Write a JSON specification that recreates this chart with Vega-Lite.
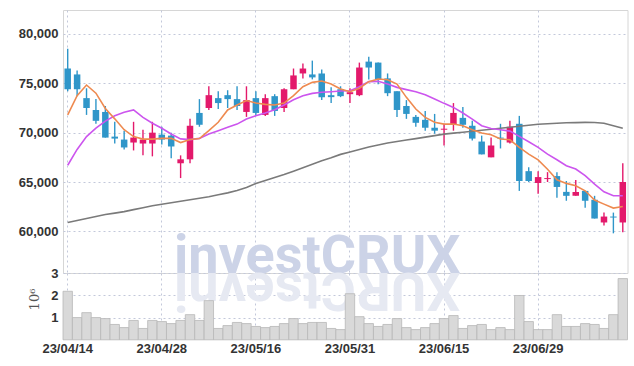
{
  "$schema": "https://vega.github.io/schema/vega-lite/v6.json",
  "padding": {"left": 17, "top": 9, "right": 8, "bottom": 5},
  "background": "white",
  "spacing": 0,
  "bounds": "flush",
  "config": {
    "view": {"stroke": null},
    "concat": {"spacing": 0},
    "axis": {
      "labelFont": "Liberation Sans, Arial, sans-serif",
      "labelFontSize": 13,
      "labelFontWeight": "bold",
      "labelColor": "#333333",
      "ticks": false,
      "domain": false,
      "grid": true,
      "gridDash": [2, 3],
      "gridColor": "#c3c8da",
      "gridWidth": 1,
      "labelPadding": 5,
      "labelOverlap": false
    }
  },
  "datasets": {
    "p": [
      {"d":"23/04/14","o":76500,"h":78500,"l":74200,"c":74400,"v":2.18,"m5":71800,"m20":66700,"m60":60900},
      {"d":"23/04/17","o":75900,"h":76300,"l":73700,"c":74400,"v":1.0,"m5":73750,"m20":68300,"m60":61100},
      {"d":"23/04/18","o":73500,"h":74500,"l":71800,"c":72500,"v":1.22,"m5":74830,"m20":69600,"m60":61300},
      {"d":"23/04/19","o":72300,"h":73400,"l":70900,"c":71200,"v":1.0,"m5":74000,"m20":70450,"m60":61500},
      {"d":"23/04/20","o":72100,"h":72700,"l":69500,"c":69500,"v":0.955,"m5":72450,"m20":71170,"m60":61700},
      {"d":"23/04/21","o":69600,"h":71100,"l":68900,"c":69400,"v":0.69,"m5":71400,"m20":71720,"m60":61850},
      {"d":"23/04/24","o":69300,"h":70200,"l":68300,"c":68500,"v":0.55,"m5":70300,"m20":72060,"m60":62000},
      {"d":"23/04/25","o":69000,"h":71100,"l":68200,"c":69500,"v":0.87,"m5":69600,"m20":72300,"m60":62200},
      {"d":"23/04/26","o":68900,"h":70300,"l":67700,"c":69300,"v":0.51,"m5":69350,"m20":71550,"m60":62400},
      {"d":"23/04/27","o":68900,"h":71100,"l":67600,"c":70000,"v":0.87,"m5":69350,"m20":70950,"m60":62600},
      {"d":"23/04/28","o":69800,"h":70600,"l":68800,"c":69300,"v":0.82,"m5":69420,"m20":70450,"m60":62750},
      {"d":"23/05/02","o":69700,"h":70000,"l":67400,"c":68600,"v":0.73,"m5":69420,"m20":69870,"m60":62900},
      {"d":"23/05/03","o":66900,"h":67700,"l":65400,"c":67300,"v":0.87,"m5":69000,"m20":69370,"m60":63050},
      {"d":"23/05/04","o":67300,"h":71400,"l":66900,"c":70700,"v":1.13,"m5":69300,"m20":69300,"m60":63200},
      {"d":"23/05/08","o":72000,"h":73400,"l":70600,"c":70800,"v":0.87,"m5":69400,"m20":69420,"m60":63350},
      {"d":"23/05/09","o":72500,"h":74700,"l":72300,"c":73800,"v":1.76,"m5":70200,"m20":69860,"m60":63500},
      {"d":"23/05/10","o":73500,"h":74200,"l":72400,"c":73000,"v":0.51,"m5":71050,"m20":70200,"m60":63700},
      {"d":"23/05/11","o":73800,"h":74300,"l":72500,"c":73400,"v":0.64,"m5":72300,"m20":70540,"m60":63900},
      {"d":"23/05/12","o":73400,"h":74700,"l":72300,"c":72700,"v":0.78,"m5":72800,"m20":70870,"m60":64150},
      {"d":"23/05/15","o":72100,"h":74700,"l":71600,"c":73300,"v":0.73,"m5":73250,"m20":71380,"m60":64450},
      {"d":"23/05/16","o":73500,"h":74200,"l":71700,"c":72000,"v":0.60,"m5":73000,"m20":71720,"m60":64850},
      {"d":"23/05/17","o":71800,"h":73900,"l":71700,"c":73500,"v":0.55,"m5":72870,"m20":71990,"m60":65150},
      {"d":"23/05/18","o":73700,"h":73900,"l":71700,"c":72200,"v":0.60,"m5":72800,"m20":72330,"m60":65450},
      {"d":"23/05/19","o":72500,"h":74500,"l":72100,"c":74400,"v":0.73,"m5":73000,"m20":72800,"m60":65750},
      {"d":"23/05/22","o":74400,"h":76500,"l":74400,"c":75800,"v":0.955,"m5":73750,"m20":73340,"m60":66100},
      {"d":"23/05/23","o":76000,"h":77000,"l":75500,"c":76500,"v":0.73,"m5":74650,"m20":73750,"m60":66450},
      {"d":"23/05/24","o":75900,"h":77300,"l":75400,"c":75600,"v":0.78,"m5":75100,"m20":73980,"m60":66800},
      {"d":"23/05/25","o":76000,"h":76400,"l":73300,"c":73600,"v":0.78,"m5":75230,"m20":74090,"m60":67150},
      {"d":"23/05/26","o":73800,"h":74600,"l":73000,"c":73600,"v":0.51,"m5":74930,"m20":74150,"m60":67450},
      {"d":"23/05/30","o":74400,"h":74700,"l":73600,"c":73700,"v":0.46,"m5":74420,"m20":74220,"m60":67800},
      {"d":"23/05/31","o":73900,"h":74500,"l":73000,"c":74100,"v":2.07,"m5":74150,"m20":74250,"m60":68050},
      {"d":"23/06/01","o":73800,"h":77100,"l":73700,"c":76600,"v":1.04,"m5":74500,"m20":74660,"m60":68300},
      {"d":"23/06/02","o":77200,"h":77700,"l":75400,"c":76600,"v":0.73,"m5":75170,"m20":75170,"m60":68550},
      {"d":"23/06/05","o":77100,"h":77100,"l":74900,"c":75400,"v":0.60,"m5":75440,"m20":75200,"m60":68750},
      {"d":"23/06/07","o":75500,"h":76000,"l":73700,"c":74000,"v":0.69,"m5":75370,"m20":74930,"m60":68950},
      {"d":"23/06/08","o":74200,"h":74200,"l":71600,"c":72300,"v":0.955,"m5":74930,"m20":74590,"m60":69100},
      {"d":"23/06/09","o":72700,"h":73300,"l":71400,"c":71900,"v":0.55,"m5":73580,"m20":74360,"m60":69250},
      {"d":"23/06/12","o":71600,"h":71800,"l":70600,"c":71000,"v":0.46,"m5":72400,"m20":74150,"m60":69400},
      {"d":"23/06/13","o":71300,"h":72200,"l":70200,"c":70500,"v":0.55,"m5":71550,"m20":73850,"m60":69550},
      {"d":"23/06/14","o":70500,"h":71900,"l":69900,"c":70200,"v":0.73,"m5":71050,"m20":73410,"m60":69700},
      {"d":"23/06/15","o":70300,"h":70900,"l":68700,"c":70400,"v":0.955,"m5":70870,"m20":72970,"m60":69850},
      {"d":"23/06/16","o":70800,"h":73000,"l":70200,"c":72000,"v":1.09,"m5":70870,"m20":72560,"m60":69950},
      {"d":"23/06/19","o":71500,"h":72600,"l":70500,"c":70800,"v":0.51,"m5":70700,"m20":71990,"m60":70050},
      {"d":"23/06/20","o":70700,"h":71200,"l":69200,"c":69400,"v":0.64,"m5":70300,"m20":71380,"m60":70150},
      {"d":"23/06/21","o":69100,"h":69700,"l":67800,"c":67800,"v":0.69,"m5":69960,"m20":70700,"m60":70250},
      {"d":"23/06/22","o":67500,"h":69500,"l":67500,"c":68700,"v":0.46,"m5":69790,"m20":70430,"m60":70350},
      {"d":"23/06/23","o":69500,"h":70900,"l":68400,"c":69400,"v":0.55,"m5":69350,"m20":70300,"m60":70450},
      {"d":"23/06/26","o":69000,"h":71200,"l":68900,"c":70600,"v":0.46,"m5":69280,"m20":70160,"m60":70550},
      {"d":"23/06/27","o":70900,"h":71700,"l":64100,"c":65100,"v":1.99,"m5":68500,"m20":69620,"m60":70650},
      {"d":"23/06/28","o":66100,"h":66500,"l":65000,"c":65100,"v":0.82,"m5":67830,"m20":69080,"m60":70750},
      {"d":"23/06/29","o":64900,"h":66100,"l":63800,"c":65500,"v":0.46,"m5":67240,"m20":68510,"m60":70850},
      {"d":"23/06/30","o":65300,"h":66000,"l":65000,"c":65400,"v":0.46,"m5":66300,"m20":67830,"m60":70900},
      {"d":"23/07/03","o":65600,"h":66000,"l":63400,"c":64500,"v":1.13,"m5":65230,"m20":67260,"m60":70950},
      {"d":"23/07/04","o":64000,"h":65100,"l":63100,"c":63600,"v":0.60,"m5":64860,"m20":66650,"m60":71000},
      {"d":"23/07/05","o":63600,"h":65200,"l":63600,"c":64000,"v":0.60,"m5":64620,"m20":66310,"m60":71020},
      {"d":"23/07/06","o":64100,"h":64100,"l":62400,"c":63100,"v":0.73,"m5":64110,"m20":65640,"m60":71040},
      {"d":"23/07/07","o":63200,"h":63600,"l":61300,"c":61300,"v":0.69,"m5":63170,"m20":64790,"m60":71030},
      {"d":"23/07/10","o":60900,"h":61900,"l":60600,"c":61500,"v":0.51,"m5":62760,"m20":64010,"m60":70950},
      {"d":"23/07/11","o":61500,"h":61900,"l":59800,"c":61400,"v":1.13,"m5":62360,"m20":63610,"m60":70700},
      {"d":"23/07/12","o":60900,"h":66900,"l":59900,"c":65000,"v":2.75,"m5":62520,"m20":63610,"m60":70450}
    ]
  },
  "vconcat": [
    {
      "width": 564.5,
      "height": 263,
      "view": {"stroke": "#d6d6d6"},
      "data": {"name": "p"},
      "encoding": {
        "x": {
          "field": "d", "type": "ordinal", "sort": "ascending",
          "scale": {"paddingInner": 0, "paddingOuter": 0},
          "axis": {"values": ["23/04/14","23/04/28","23/05/16","23/05/31","23/06/15","23/06/29"], "labels": false, "labelPadding": 0, "title": null}
        }
      },
      "layer": [
        {
          "transform": [{"filter": "datum.d == '23/05/24'"}],
          "mark": {"type": "text", "text": "investCRUX", "font": "Roboto", "fontWeight": "bold", "fontSize": 54, "color": "#ccd3e7", "align": "center", "baseline": "alphabetic", "dx": 5},
          "encoding": {
            "y": {"datum": 55800, "type": "quantitative", "title": null,
              "scale": {"domain": [55780, 82430], "nice": false, "zero": false},
              "axis": {"values": [60000, 65000, 70000, 75000, 80000], "labelExpr": "format(datum.value, ',')"}}
          }
        },
        {
          "mark": {"type": "rule", "strokeWidth": 1.4},
          "encoding": {
            "y": {"field": "l", "type": "quantitative", "title": null},
            "y2": {"field": "h"},
            "color": {"condition": {"test": "datum.c >= datum.o", "value": "#e3196b"}, "value": "#2f96c9"}
          }
        },
        {
          "mark": {"type": "bar", "size": 6.5},
          "encoding": {
            "y": {"field": "o", "type": "quantitative", "title": null},
            "y2": {"field": "c"},
            "color": {"condition": {"test": "datum.c >= datum.o", "value": "#e3196b"}, "value": "#2f96c9"}
          }
        },
        {
          "mark": {"type": "line", "color": "#7a7a7a", "strokeWidth": 1.6},
          "encoding": {"y": {"field": "m60", "type": "quantitative", "title": null}}
        },
        {
          "mark": {"type": "line", "color": "#cc55ee", "strokeWidth": 1.6},
          "encoding": {"y": {"field": "m20", "type": "quantitative", "title": null}}
        },
        {
          "mark": {"type": "line", "color": "#ee8a50", "strokeWidth": 1.6},
          "encoding": {"y": {"field": "m5", "type": "quantitative", "title": null}}
        }
      ]
    },
    {
      "width": 564.5,
      "height": 64.6,
      "data": {"name": "p"},
      "encoding": {
        "x": {
          "field": "d", "type": "ordinal", "sort": "ascending",
          "scale": {"paddingInner": 0, "paddingOuter": 0},
          "axis": {"values": ["23/04/14","23/04/28","23/05/16","23/05/31","23/06/15","23/06/29"], "labelAngle": 0, "labelFontSize": 13, "title": null}
        }
      },
      "layer": [
        {
          "transform": [{"filter": "datum.d == '23/05/24'"}],
          "mark": {"type": "text", "text": "XURCtsevni", "font": "Roboto", "fontWeight": "bold", "fontSize": 54, "color": "#e6e9f2", "align": "center", "baseline": "alphabetic", "angle": 180, "dx": -5},
          "encoding": {
            "y": {"datum": 3, "type": "quantitative",
              "scale": {"domain": [0.1, 3], "nice": false, "zero": false},
              "axis": {"values": [1, 2, 3], "format": "d",
                "title": "10⁶", "titleFont": "DejaVu Serif", "titleFontSize": 13, "titleFontWeight": "normal", "titleColor": "#555555", "titlePadding": 9, "titleY": 26}}
          }
        },
        {
          "mark": {"type": "bar", "fill": "#d9d9d9", "stroke": "#b8b8b8", "strokeWidth": 0.8},
          "encoding": {
            "y": {"field": "v", "type": "quantitative",
              "axis": {"values": [1, 2, 3], "format": "d",
                "title": "10⁶", "titleFont": "DejaVu Serif", "titleFontSize": 13, "titleFontWeight": "normal", "titleColor": "#555555", "titlePadding": 9, "titleY": 26}}
          }
        }
      ]
    }
  ]
}
